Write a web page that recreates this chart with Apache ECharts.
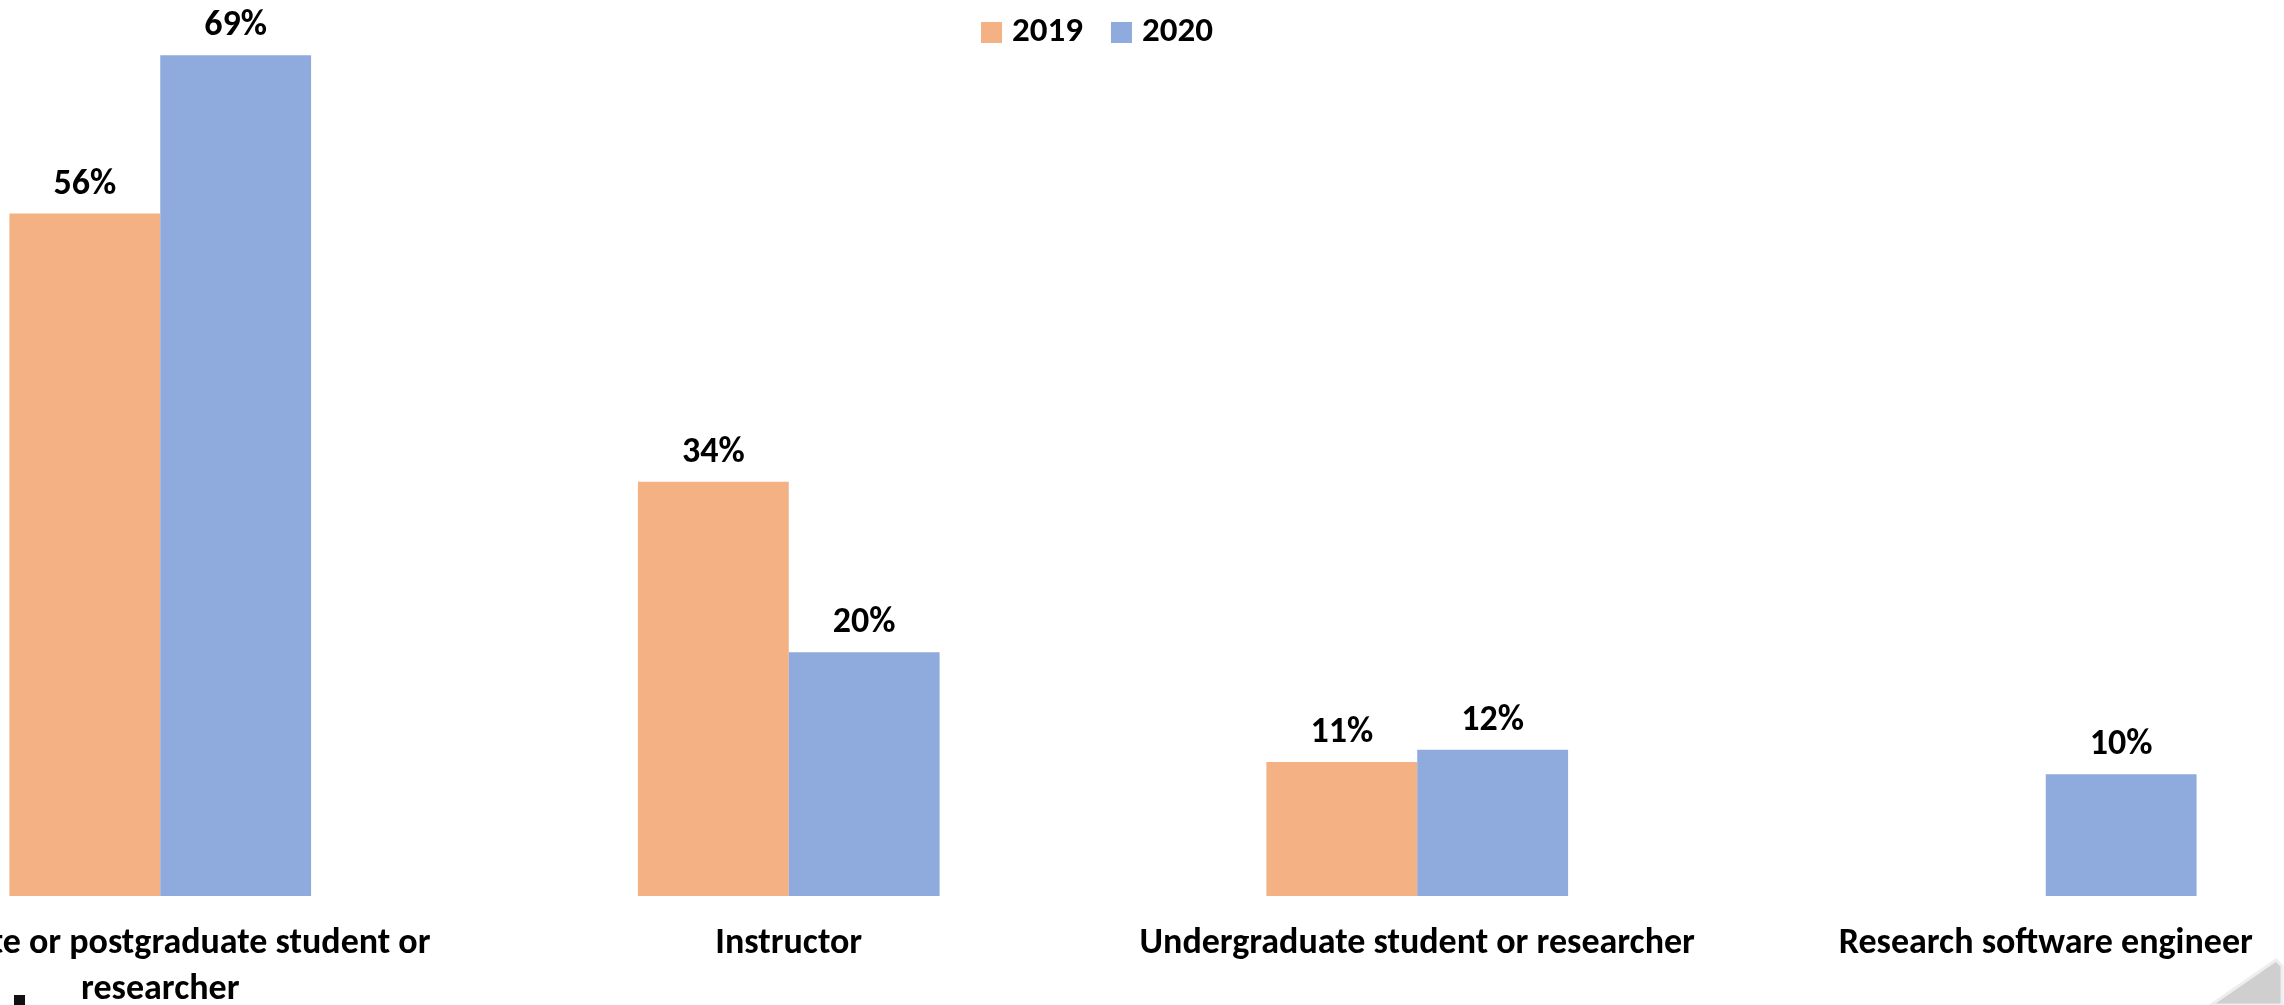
<!DOCTYPE html>
<html>
<head>
<meta charset="utf-8">
<script src="https://cdn.jsdelivr.net/npm/echarts@6/dist/echarts.min.js"></script>
<style>
  html, body { margin: 0; padding: 0; background: #fff; }
  #chart { width: 2284px; height: 1005px; }
</style>
</head>
<body>
<div id="chart"></div>
<script>
var categories = [
    'Graduate or postgraduate student or researcher',
    'Instructor',
    'Undergraduate student or researcher',
    'Research software engineer'
];
var years = ['2019', '2020'];
var values2019 = [56, 34, 11, null];
var values2020 = [69, 20, 12, 10];

var font = 'Carlito, Lato, sans-serif';
var orange = '#F4B183';
var blue = '#8FAADC';

var labelStyle = {
    show: true,
    position: 'top',
    distance: 11,
    formatter: '{c}%',
    color: '#000',
    fontFamily: font,
    fontWeight: 'bold',
    fontSize: 36
};

var myChart = echarts.init(document.getElementById('chart'));
myChart.setOption({
    animation: false,
    backgroundColor: '#fff',
    legend: {
        data: years,
        left: 976,
        top: 10,
        itemWidth: 21,
        itemHeight: 21,
        itemGap: 28,
        icon: 'rect',
        textStyle: {
            color: '#000',
            fontFamily: font,
            fontWeight: 'bold',
            fontSize: 35,
            padding: [0, 0, 0, 5]
        }
    },
    grid: {
        left: -154,
        right: -76,
        top: 43,
        bottom: 109,
        containLabel: false,
        outerBoundsMode: 'none'
    },
    xAxis: {
        type: 'category',
        data: categories,
        axisLine: { show: false },
        axisTick: { show: false },
        axisLabel: {
            margin: 25,
            color: '#000',
            fontFamily: font,
            fontWeight: 'bold',
            fontSize: 36,
            lineHeight: 46,
            width: 620,
            overflow: 'break',
            interval: 0
        }
    },
    yAxis: {
        type: 'value',
        min: 0,
        max: 70,
        show: false,
        splitLine: { show: false }
    },
    series: [{
            name: years[0],
            type: 'bar',
            data: values2019,
            barGap: '0%',
            barCategoryGap: '52%',
            itemStyle: { color: orange },
            label: labelStyle
        },
        {
            name: years[1],
            type: 'bar',
            data: values2020,
            barGap: '0%',
            barCategoryGap: '52%',
            itemStyle: { color: blue },
            label: labelStyle
        }
    ],
    graphic: [{
            // stray dark mark at the bottom left edge
            type: 'rect',
            shape: { x: 14, y: 995, width: 11, height: 10 },
            style: { fill: '#111' }
        },
        {
            // page-curl corner
            type: 'polygon',
            shape: { points: [[2211, 1005], [2276, 960], [2282, 966], [2282, 1005]] },
            style: { fill: '#cfcfcf', stroke: '#eeeeee', lineWidth: 3 }
        }
    ]
});
</script>
</body>
</html>
